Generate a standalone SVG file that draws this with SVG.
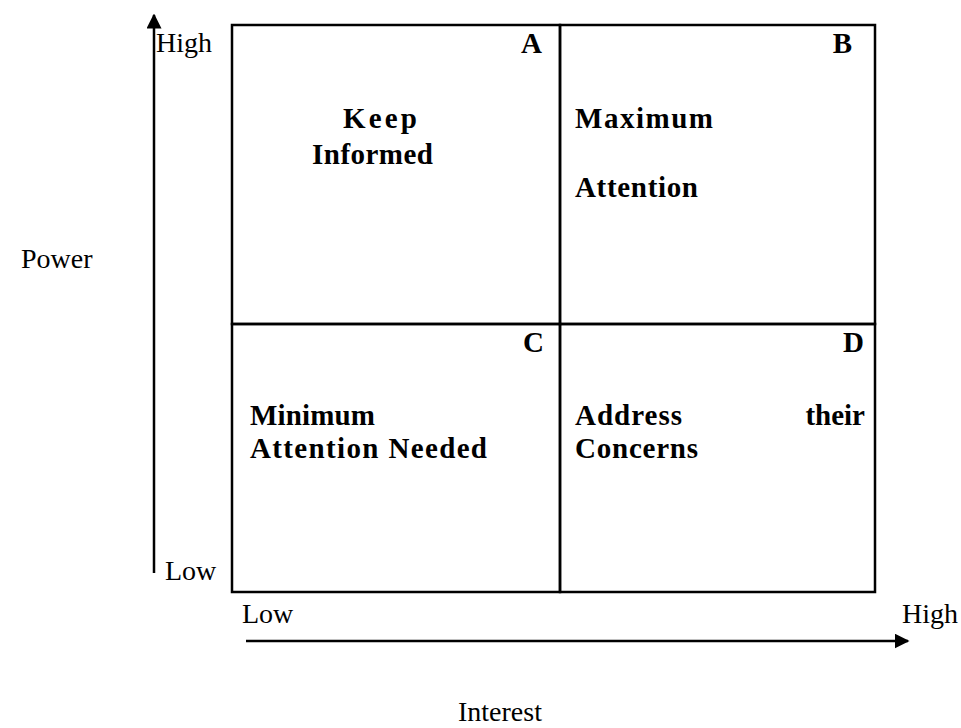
<svg xmlns="http://www.w3.org/2000/svg" width="961" height="728" viewBox="0 0 961 728">
  <style>
    .axis-label { font-family: "Liberation Serif", "Times New Roman", serif; font-size: 28px; fill: #000; }
    .cell-text { font-family: "Liberation Serif", "Times New Roman", serif; font-size: 29px; font-weight: bold; fill: #000; }
    .grid { fill: none; stroke: #000; stroke-width: 2.5; }
    .axis { stroke: #000; stroke-width: 2.5; fill: none; }
  </style>
  <defs>
    <marker id="arrow" viewBox="0 0 10 10" refX="9" refY="5" markerWidth="6" markerHeight="6" markerUnits="strokeWidth" orient="auto">
      <path d="M0,0 L10,5 L0,10 Z" fill="#000"/>
    </marker>
  </defs>
  <rect width="961" height="728" fill="#fff"/>

  <!-- power / interest axes -->
  <g id="connectors">
    <line class="axis" x1="154" y1="573" x2="154" y2="15" marker-end="url(#arrow)"/>
    <line class="axis" x1="246" y1="641" x2="908" y2="641" marker-end="url(#arrow)"/>
  </g>

  <g id="axis-labels">
    <text class="axis-label" x="21" y="268">Power</text>
    <text class="axis-label" x="156" y="52">High</text>
    <text class="axis-label" x="165" y="580">Low</text>
    <text class="axis-label" x="242" y="623">Low</text>
    <text class="axis-label" x="902" y="623">High</text>
    <text class="axis-label" x="458" y="721">Interest</text>
  </g>

  <!-- quadrant A: high power, low interest -->
  <g id="quadrant-a">
    <rect class="grid" x="232" y="25" width="328" height="299"/>
    <text class="cell-text" x="542" y="53" text-anchor="end">A</text>
    <text class="cell-text" x="343" y="128" textLength="74" lengthAdjust="spacing">Keep</text>
    <text class="cell-text" x="312" y="164" textLength="121" lengthAdjust="spacing">Informed</text>
  </g>

  <!-- quadrant B: high power, high interest -->
  <g id="quadrant-b">
    <rect class="grid" x="560" y="25" width="315" height="299"/>
    <text class="cell-text" x="852" y="53" text-anchor="end">B</text>
    <text class="cell-text" x="575" y="128" textLength="138" lengthAdjust="spacing">Maximum</text>
    <text class="cell-text" x="575" y="197" textLength="123" lengthAdjust="spacing">Attention</text>
  </g>

  <!-- quadrant C: low power, low interest -->
  <g id="quadrant-c">
    <rect class="grid" x="232" y="324" width="328" height="268"/>
    <text class="cell-text" x="544" y="352" text-anchor="end">C</text>
    <text class="cell-text" x="250" y="425" textLength="125" lengthAdjust="spacing">Minimum</text>
    <text class="cell-text" x="250" y="458" textLength="237" lengthAdjust="spacing">Attention  Needed</text>
  </g>

  <!-- quadrant D: low power, high interest -->
  <g id="quadrant-d">
    <rect class="grid" x="560" y="324" width="315" height="268"/>
    <text class="cell-text" x="864" y="352" text-anchor="end">D</text>
    <text class="cell-text" x="575" y="425" textLength="107" lengthAdjust="spacing">Address</text>
    <text class="cell-text" x="865" y="425" text-anchor="end">their</text>
    <text class="cell-text" x="575" y="458" textLength="123" lengthAdjust="spacing">Concerns</text>
  </g>
</svg>
